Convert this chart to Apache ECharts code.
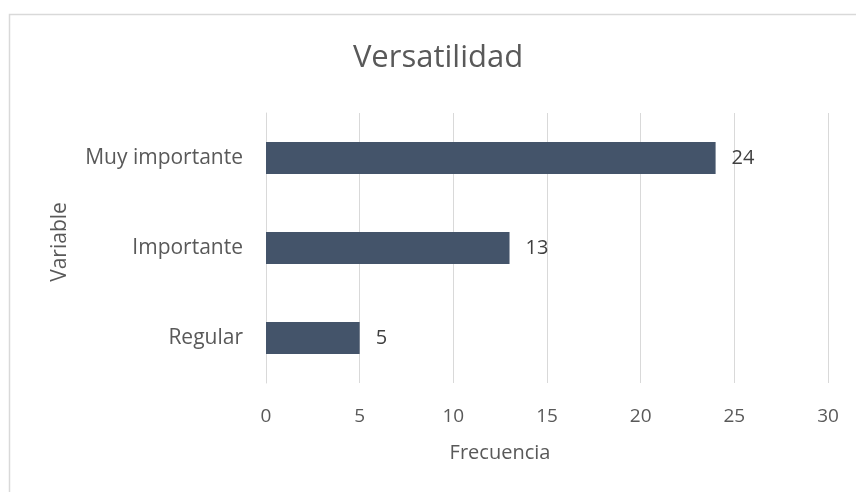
<!DOCTYPE html>
<html>
<head>
<meta charset="utf-8">
<script src="https://cdn.jsdelivr.net/npm/echarts@6/dist/echarts.min.js"></script>
<style>
html,body{margin:0;padding:0;background:#fff;}
#c{width:856px;height:492px;}
</style>
</head>
<body>
<div id="c"></div>
<script>
var categories = ['Muy importante', 'Importante', 'Regular'];
var frecuencia = [24, 13, 5];
var xTicks = { min: 0, max: 30, interval: 5 };
var titleText = 'Versatilidad';
var xName = 'Frecuencia';
var yName = 'Variable';

var FONT = '"Open Sans", "Noto Sans", sans-serif';
var chart = echarts.init(document.getElementById('c'), null, { renderer: 'canvas' });
chart.setOption({
  backgroundColor: '#ffffff',
  animation: false,
  grid: { left: 266, right: 28, top: 113, bottom: 109, containLabel: false },
  xAxis: {
    type: 'value',
    min: xTicks.min, max: xTicks.max, interval: xTicks.interval,
    axisLine: { show: false },
    axisTick: { show: false },
    splitLine: { show: true, lineStyle: { color: '#D9D9D9', width: 1 } },
    axisLabel: { color: '#595959', fontFamily: FONT, fontSize: 19, margin: 24 }
  },
  yAxis: {
    type: 'category',
    data: categories,
    inverse: true,
    axisLine: { show: true, lineStyle: { color: '#D9D9D9', width: 1 } },
    axisTick: { show: false },
    axisLabel: { color: '#595959', fontFamily: FONT, fontSize: 21, margin: 23 }
  },
  series: [{
    type: 'bar',
    data: frecuencia,
    barWidth: 32,
    itemStyle: { color: '#44546A' },
    label: {
      show: true, position: 'right', distance: 16,
      color: '#404040', fontFamily: FONT, fontSize: 20
    }
  }],
  graphic: [
    { type: 'rect', silent: true, z: -1,
      shape: { x: 9.5, y: 14.5, width: 1000, height: 1000 },
      style: { fill: null, stroke: '#D9D9D9', lineWidth: 1.5 } },
    { type: 'text', x: 438, y: 58,
      style: { text: titleText, fill: '#595959', font: '31px ' + FONT, textAlign: 'center', textVerticalAlign: 'middle' } },
    { type: 'text', x: 500, y: 453,
      style: { text: xName, fill: '#595959', font: '20px ' + FONT, textAlign: 'center', textVerticalAlign: 'middle' } },
    { type: 'text', x: 60, y: 242, rotation: Math.PI / 2,
      style: { text: yName, fill: '#595959', font: '21px ' + FONT, textAlign: 'center', textVerticalAlign: 'middle' } }
  ]
});
</script>
</body>
</html>
